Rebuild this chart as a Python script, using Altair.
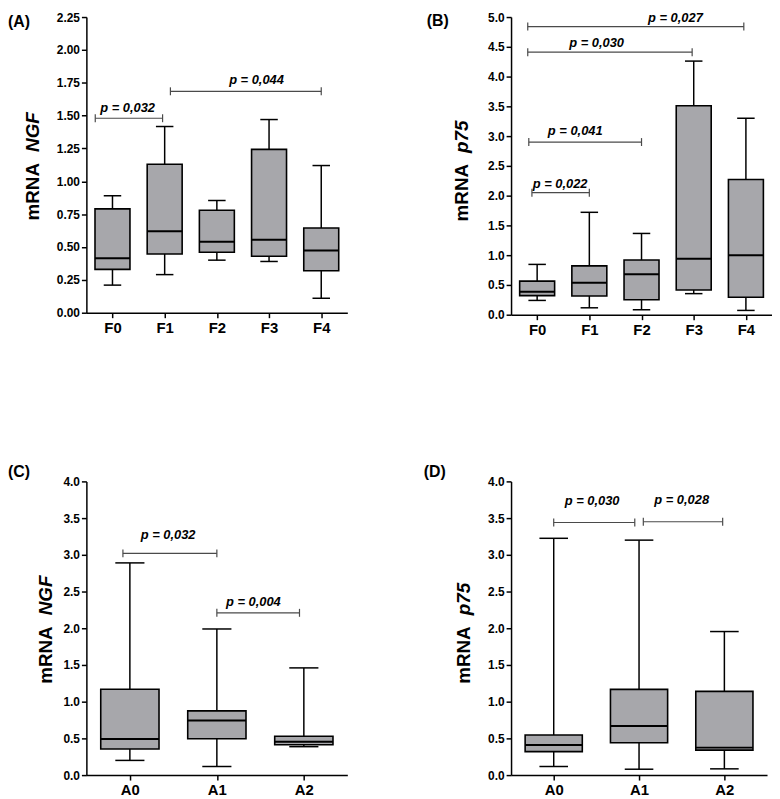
import altair as alt
import pandas as pd

FONT = "Liberation Sans"
BOX_FILL = "#a7a7ab"
BRACKET_COLOR = "#4a4a4a"

# ---------------- Panel A : NGF by fibrosis stage ----------------
a_cats = ["F0", "F1", "F2", "F3", "F4"]
a_lo = [0.21, 0.29, 0.40, 0.39, 0.11]
a_q1 = [0.33, 0.447, 0.46, 0.43, 0.32]
a_med = [0.414, 0.62, 0.54, 0.556, 0.474]
a_q3 = [0.79, 1.13, 0.78, 1.243, 0.645]
a_hi = [0.89, 1.417, 0.854, 1.47, 1.12]
a_ticks = [0.0, 0.25, 0.5, 0.75, 1.0, 1.25, 1.5, 1.75, 2.0, 2.25]
a_br_text = ["p = 0,032", "p = 0,044"]
a_br_x1 = [-0.33, 1.11]
a_br_x2 = [0.96, 4.0]
a_br_y = [1.48, 1.685]
a_br_tx = [0.29, 2.76]
a_br_ty = [1.56, 1.77]

# ---------------- Panel B : p75 by fibrosis stage ----------------
b_cats = ["F0", "F1", "F2", "F3", "F4"]
b_lo = [0.24, 0.116, 0.083, 0.354, 0.072]
b_q1 = [0.32, 0.315, 0.25, 0.414, 0.293]
b_med = [0.387, 0.536, 0.68, 0.94, 1.0]
b_q3 = [0.564, 0.82, 0.92, 3.51, 2.27]
b_hi = [0.845, 1.72, 1.365, 4.26, 3.3]
b_ticks = [0.0, 0.5, 1.0, 1.5, 2.0, 2.5, 3.0, 3.5, 4.0, 4.5, 5.0]
b_br_text = ["p = 0,022", "p = 0,041", "p = 0,030", "p = 0,027"]
b_br_x1 = [-0.10, -0.16, -0.18, -0.18]
b_br_x2 = [1.0, 2.0, 2.97, 3.96]
b_br_y = [2.05, 2.90, 4.41, 4.84]
b_br_tx = [0.44, 0.73, 1.14, 2.65]
b_br_ty = [2.20, 3.09, 4.56, 4.98]

# ---------------- Panel C : NGF by activity grade ----------------
c_cats = ["A0", "A1", "A2"]
c_lo = [0.20, 0.117, 0.387]
c_q1 = [0.355, 0.495, 0.414]
c_med = [0.49, 0.743, 0.455]
c_q3 = [1.17, 0.875, 0.53]
c_hi = [2.89, 1.99, 1.46]
c_ticks = [0.0, 0.5, 1.0, 1.5, 2.0, 2.5, 3.0, 3.5, 4.0]
c_br_text = ["p = 0,032", "p = 0,004"]
c_br_x1 = [-0.08, 1.0]
c_br_x2 = [1.0, 1.95]
c_br_y = [3.02, 2.21]
c_br_tx = [0.44, 1.42]
c_br_ty = [3.27, 2.36]

# ---------------- Panel D : p75 by activity grade ----------------
d_cats = ["A0", "A1", "A2"]
d_lo = [0.117, 0.08, 0.085]
d_q1 = [0.32, 0.44, 0.34]
d_med = [0.41, 0.667, 0.374]
d_q3 = [0.545, 1.167, 1.14]
d_hi = [3.225, 3.2, 1.955]
d_ticks = [0.0, 0.5, 1.0, 1.5, 2.0, 2.5, 3.0, 3.5, 4.0]
d_br_text = ["p = 0,030", "p = 0,028"]
d_br_x1 = [0.0, 1.05]
d_br_x2 = [0.95, 1.98]
d_br_y = [3.44, 3.45]
d_br_tx = [0.45, 1.5]
d_br_ty = [3.73, 3.75]


def make_panel(cats, lo, q1, med, q3, hi, ticks, yfmt, gene,
               br_text, br_x1, br_x2, br_y, br_tx, br_ty,
               label, w, h, label_dx, label_dy, title_dx, bw=0.67):
    n = len(cats)
    idx = list(range(n))
    df = pd.DataFrame({
        "i": idx, "cat": cats, "lo": lo, "q1": q1, "med": med, "q3": q3, "hi": hi,
    })
    df["bl"] = df["i"] - bw / 2
    df["br"] = df["i"] + bw / 2
    df["cl"] = df["i"] - bw / 4
    df["cr"] = df["i"] + bw / 4

    label_expr = "[" + ",".join("'%s'" % c for c in cats) + "][datum.value]"
    xscale = alt.Scale(domain=[-0.5, n - 0.5], nice=False, zero=False)
    yscale = alt.Scale(domain=[ticks[0], ticks[-1]], nice=False, zero=True)
    xaxis = alt.Axis(values=idx, tickCount=n + 2, labelExpr=label_expr, title=None,
                     labelFontSize=15, labelPadding=3, labelAngle=0,
                     labelOverlap=False, labelFlush=False)
    yaxis = alt.Axis(values=ticks, tickCount=len(ticks) + 5, format=yfmt, title=None,
                     labelFontSize=12, labelPadding=2, labelOverlap=False,
                     labelFlush=False)

    base = alt.Chart(df)
    whisk = base.mark_rule(color="black", strokeWidth=1.5).encode(
        x=alt.X("i:Q", scale=xscale, axis=xaxis),
        y=alt.Y("lo:Q", scale=yscale, axis=yaxis),
        y2="hi:Q",
    )
    cap_lo = base.mark_rule(color="black", strokeWidth=1.5).encode(
        x="cl:Q", x2="cr:Q", y="lo:Q")
    cap_hi = base.mark_rule(color="black", strokeWidth=1.5).encode(
        x="cl:Q", x2="cr:Q", y="hi:Q")
    box = base.mark_bar(fill=BOX_FILL, stroke="black", strokeWidth=1.6).encode(
        x="bl:Q", x2="br:Q", y="q1:Q", y2="q3:Q")
    median = base.mark_rule(color="black", strokeWidth=2).encode(
        x="bl:Q", x2="br:Q", y="med:Q")

    bdf = pd.DataFrame({"t": br_text, "x1": br_x1, "x2": br_x2, "y": br_y,
                        "tx": br_tx, "ty": br_ty})
    bbase = alt.Chart(bdf)
    br_line = bbase.mark_rule(color=BRACKET_COLOR, strokeWidth=1.2).encode(
        x="x1:Q", x2="x2:Q", y="y:Q")
    br_end1 = bbase.mark_rule(color=BRACKET_COLOR, strokeWidth=1.2,
                              yOffset=-4, y2Offset=4).encode(
        x="x1:Q", y="y:Q", y2="y:Q")
    br_end2 = bbase.mark_rule(color=BRACKET_COLOR, strokeWidth=1.2,
                              yOffset=-4, y2Offset=4).encode(
        x="x2:Q", y="y:Q", y2="y:Q")
    br_txt = bbase.mark_text(font=FONT, fontSize=13, fontWeight="bold",
                             fontStyle="italic", color="black",
                             baseline="middle", align="center").encode(
        x="tx:Q", y="ty:Q", text="t:N")

    lab = alt.Chart(pd.DataFrame({"t": [label]})).mark_text(
        font=FONT, fontSize=16, fontWeight="bold", color="black",
        align="left", baseline="top").encode(
        text="t:N", x=alt.value(label_dx), y=alt.value(label_dy))

    t1 = alt.Chart(pd.DataFrame({"t": ["mRNA"]})).mark_text(
        font=FONT, fontSize=19, fontWeight="bold", color="black",
        angle=270, align="right", baseline="middle").encode(
        text="t:N", x=alt.value(title_dx), y=alt.value(h / 2 - 2))
    t2 = alt.Chart(pd.DataFrame({"t": [gene]})).mark_text(
        font=FONT, fontSize=19, fontWeight="bold", fontStyle="italic",
        color="black", angle=270, align="left", baseline="middle").encode(
        text="t:N", x=alt.value(title_dx), y=alt.value(h / 2 - 13))

    return alt.layer(whisk, cap_lo, cap_hi, box, median,
                     br_line, br_end1, br_end2, br_txt, lab, t1, t2).properties(
        width=w, height=h)


pA = make_panel(a_cats, a_lo, a_q1, a_med, a_q3, a_hi, a_ticks, ".2f", "NGF",
                a_br_text, a_br_x1, a_br_x2, a_br_y, a_br_tx, a_br_ty,
                "(A)", 263, 298, -79, -3, -54)
pB = make_panel(b_cats, b_lo, b_q1, b_med, b_q3, b_hi, b_ticks, ".1f", "p75",
                b_br_text, b_br_x1, b_br_x2, b_br_y, b_br_tx, b_br_ty,
                "(B)", 263, 300, -85, -4, -49)
pC = make_panel(c_cats, c_lo, c_q1, c_med, c_q3, c_hi, c_ticks, ".1f", "NGF",
                c_br_text, c_br_x1, c_br_x2, c_br_y, c_br_tx, c_br_ty,
                "(C)", 263, 296, -79, -17, -41)
pD = make_panel(d_cats, d_lo, d_q1, d_med, d_q3, d_hi, d_ticks, ".1f", "p75",
                d_br_text, d_br_x1, d_br_x2, d_br_y, d_br_tx, d_br_ty,
                "(D)", 258, 296, -88, -17, -47)

chart = alt.concat(
    pA, pB, pC, pD, columns=2,
    spacing={"row": 168, "column": 165},
    bounds="flush",
).properties(padding=0).configure_view(stroke=None).configure_axis(
    domainColor="black", domainWidth=1.5, tickColor="black", tickWidth=1.5,
    tickSize=5, labelColor="black", labelFont=FONT, labelFontWeight="bold",
    grid=False,
)

chart.save("out.html", embed_options={"renderer": "svg", "actions": False})
